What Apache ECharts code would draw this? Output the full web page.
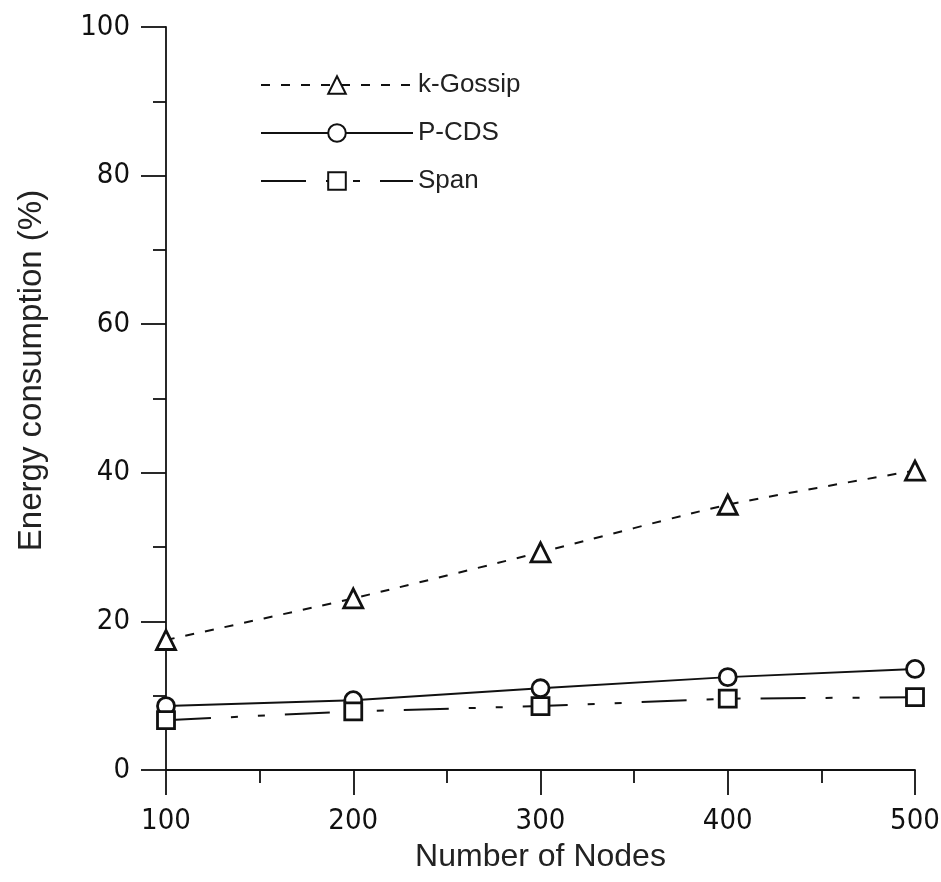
<!DOCTYPE html>
<html>
<head>
<meta charset="utf-8">
<script src="https://cdn.jsdelivr.net/npm/echarts@6/dist/echarts.min.js"></script>
<style>
  html, body { margin: 0; padding: 0; background: #fff; }
  #chart { width: 941px; height: 882px; }
</style>
</head>
<body>
<div id="chart"></div>
<script>
var nodes = [100, 200, 300, 400, 500];
var kGossip = [17.5, 23.1, 29.3, 35.7, 40.3];
var pCds = [8.6, 9.4, 11.0, 12.5, 13.6];
var span = [6.7, 7.9, 8.6, 9.6, 9.8];

function pairs(ys) {
  return nodes.map(function (x, i) { return [x, ys[i]]; });
}

var chart = echarts.init(document.getElementById('chart'));
var font = 'Liberation Sans';
var tickFont = '"DejaVu Sans Condensed", "Liberation Sans", sans-serif';
var marker = { color: '#fff', borderColor: '#111', borderWidth: 2.8 };

var option = {
  animation: false,
  textStyle: { fontFamily: font, color: '#222' },
  grid: { left: 166, right: 26, top: 27, bottom: 112, outerBoundsMode: 'none', containLabel: false },
  legend: {
    left: 255, top: 67, orient: 'vertical',
    itemWidth: 152, itemHeight: 22, itemGap: 22,
    textStyle: { fontSize: 26, color: '#222', fontFamily: font },
    data: ['k-Gossip', 'P-CDS', 'Span']
  },
  xAxis: {
    type: 'value', min: 100, max: 500, interval: 100,
    name: 'Number of Nodes', nameLocation: 'middle', nameGap: 68,
    nameTextStyle: { fontSize: 32, color: '#222' },
    axisLine: { lineStyle: { color: '#111', width: 1.8 } },
    axisTick: { length: 25, lineStyle: { color: '#111', width: 1.8 } },
    minorTick: { show: true, splitNumber: 2, length: 13, lineStyle: { color: '#111', width: 1.8 } },
    axisLabel: { fontSize: 29, fontFamily: tickFont, color: '#111', margin: 37 },
    splitLine: { show: false }
  },
  yAxis: {
    type: 'value', min: 0, max: 100, interval: 20,
    name: 'Energy consumption (%)', nameLocation: 'middle', nameGap: 118,
    nameTextStyle: { fontSize: 33, color: '#222', padding: [0, 0, 0, 56] },
    axisLine: { show: true, lineStyle: { color: '#111', width: 1.8 } },
    axisTick: { show: true, length: 25, lineStyle: { color: '#111', width: 1.8 } },
    minorTick: { show: true, splitNumber: 2, length: 13, lineStyle: { color: '#111', width: 1.8 } },
    axisLabel: { fontSize: 29, fontFamily: tickFont, color: '#111', margin: 36 },
    splitLine: { show: false }
  },
  series: [
    {
      name: 'k-Gossip', type: 'line', data: pairs(kGossip), smooth: 0.2,
      symbol: 'triangle', symbolSize: 19, itemStyle: marker,
      lineStyle: { color: '#111', width: 2, type: [9, 11] }
    },
    {
      name: 'P-CDS', type: 'line', data: pairs(pCds),
      symbol: 'circle', symbolSize: 17, itemStyle: marker,
      lineStyle: { color: '#111', width: 2 }
    },
    {
      name: 'Span', type: 'line', data: pairs(span),
      symbol: 'rect', symbolSize: 17, itemStyle: marker,
      lineStyle: { color: '#111', width: 2, type: [45, 20, 7, 20, 7, 20] }
    }
  ]
};

chart.setOption(option);
</script>
</body>
</html>
